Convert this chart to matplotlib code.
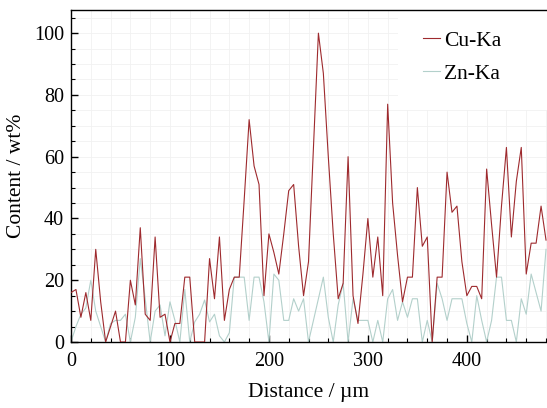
import numpy as np
import matplotlib
matplotlib.use("Agg")
import matplotlib.pyplot as plt
from matplotlib.ticker import MultipleLocator
from matplotlib.patches import Rectangle

# line scan values, one point every 5 um
cu_ka = [16, 17, 8, 16, 7, 30, 13, 0, 5, 10, 0, 0, 20, 12, 37, 9, 7, 34, 8, 9,
         0, 6, 6, 21, 21, 0, 0, 0, 27, 14, 34, 7, 17, 21, 21, 46, 72, 57, 51, 15,
         35, 29, 22, 35, 49, 51, 31, 15, 26, 63, 100, 87, 60, 35, 14, 19, 60, 15, 6, 22,
         40, 21, 34, 15, 77, 45, 28, 13, 21, 21, 50, 31, 34, 0, 21, 21, 55, 42, 44, 26,
         15, 18, 18, 14, 56, 38, 21, 44, 63, 34, 52, 63, 22, 32, 32, 44, 33]
zn_ka = [0, 5, 9, 11, 20, 10, 5, 0, 6, 7, 7, 9, 0, 8, 27, 14, 0, 10, 12, 2,
         13, 7, 0, 17, 0, 6.5, 9, 13.6, 6.5, 9, 2, 0, 3, 21, 21, 21, 7, 21, 21, 13,
         0, 22, 20, 7, 7, 14, 10, 14, 0, 7, 14, 21, 8, 0, 12, 19, 0, 14, 7, 7,
         7, 0, 7, 0, 14, 17, 7, 13, 8, 14, 14, 0, 7, 0, 19, 14, 7, 14, 14, 14,
         6, 0, 15, 7, 0, 7, 21, 21, 7, 7, 0, 14, 9, 22, 16, 10, 30]
distance = np.arange(len(cu_ka)) * 5

plt.rcParams['font.family'] = ['Liberation Serif', 'DejaVu Serif']

fig = plt.figure(figsize=(5.47, 4.08), dpi=100)
ax = fig.add_axes([71 / 547, 66 / 408, 476 / 547, 332 / 408])

ax.plot(distance, cu_ka, color='#9e2a2e', lw=0.8, label='Cu-Ka', zorder=3)
ax.plot(distance, zn_ka, color='#b3d0cb', lw=0.8, label='Zn-Ka', zorder=2)

ax.set_xlim(0, 481)
ax.set_ylim(0, 107.5)
ax.xaxis.set_major_locator(MultipleLocator(100))
ax.xaxis.set_minor_locator(MultipleLocator(20))
ax.yaxis.set_major_locator(MultipleLocator(20))
ax.yaxis.set_minor_locator(MultipleLocator(5))

ax.grid(which='both', color='#f1f1f1', lw=0.6, zorder=0)
ax.set_axisbelow(True)
# white block behind the legend hides the grid there
ax.add_patch(Rectangle((330, 75), 160, 40, facecolor='white', edgecolor='none', zorder=1))

ax.tick_params(which='both', direction='in', labelsize=14.5)
ax.tick_params(which='major', length=5, width=1)
ax.tick_params(which='minor', length=3, width=0.8)
ax.tick_params(axis='x', pad=7)
ax.tick_params(axis='y', pad=5)
ax.spines['right'].set_visible(False)
for s in ['left', 'bottom', 'top']:
    ax.spines[s].set_linewidth(1.0)

ax.set_xlabel('Distance / µm', fontsize=15.5, labelpad=9)
ax.set_ylabel('Content / wt%', fontsize=15.5, labelpad=6)

leg = fig.legend(loc='center left', bbox_to_anchor=(412 / 547, 1 - 57 / 408),
                 fontsize=15.5, handlelength=0.8, handletextpad=0.2,
                 labelspacing=0.6, borderpad=0, frameon=False)

fig.savefig('out.png', dpi=100)
